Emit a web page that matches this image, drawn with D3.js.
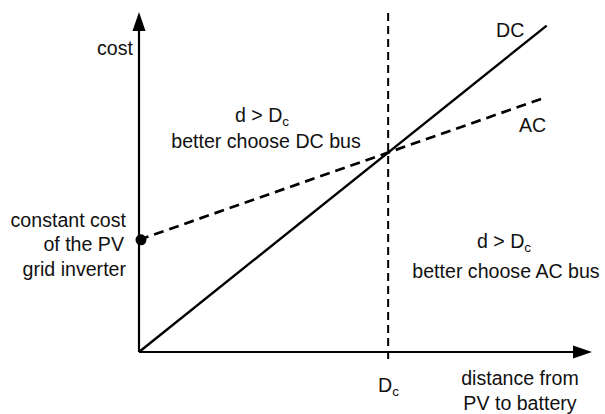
<!DOCTYPE html>
<html>
<head>
<meta charset="utf-8">
<script src="https://cdn.jsdelivr.net/npm/d3@7"></script>
<style>
  html, body { margin: 0; padding: 0; background: #fff; }
  svg text { font-family: "Liberation Sans", Arial, sans-serif; fill: #111; }
</style>
</head>
<body>
<svg id="chart" width="605" height="414"></svg>
<script>
// ---- data ----
const distance = [0, 90];          // distance from PV to battery (arbitrary units)
const dcCost   = [0, 96];          // DC bus cost
const acCost   = [33, 75];         // AC bus cost (constant inverter cost + slope)
const crossover = 55;              // D_c
const inverterCost = 33;           // constant cost of the PV grid inverter

const svg = d3.select("#chart");
const x = d3.scaleLinear().domain([0, 100]).range([139, 592]);
const y = d3.scaleLinear().domain([0, 100]).range([352, 12]);

// axes
const ax = svg.append("g").attr("stroke", "#000").attr("stroke-width", 2.2);
ax.append("line").attr("x1", x(0)).attr("x2", x(100) - 16).attr("y1", y(0)).attr("y2", y(0));
ax.append("line").attr("x1", x(0)).attr("x2", x(0)).attr("y1", y(0)).attr("y2", y(100) + 16);
// arrowheads
svg.append("path")
  .attr("d", `M${x(100)},${y(0)} L${x(100) - 19},${y(0) - 6.5} L${x(100) - 19},${y(0) + 6.5} Z`)
  .attr("fill", "#000");
svg.append("path")
  .attr("d", `M${x(0)},${y(100)} L${x(0) - 6.5},${y(100) + 19} L${x(0) + 6.5},${y(100) + 19} Z`)
  .attr("fill", "#000");

// crossover dashed vertical
svg.append("line")
  .attr("x1", x(crossover)).attr("x2", x(crossover))
  .attr("y1", y(100) + 1).attr("y2", y(0) + 11)
  .attr("stroke", "#000").attr("stroke-width", 2)
  .attr("stroke-dasharray", "8,5");

const line = d3.line().x(d => x(d[0])).y(d => y(d[1]));

// DC line
svg.append("path")
  .attr("d", line(distance.map((d, i) => [d, dcCost[i]])))
  .attr("fill", "none").attr("stroke", "#000").attr("stroke-width", 2.4);

// AC line
svg.append("path")
  .attr("d", line(distance.map((d, i) => [d, acCost[i]])))
  .attr("fill", "none").attr("stroke", "#000").attr("stroke-width", 2.7)
  .attr("stroke-dasharray", "10,6");

// inverter cost dot
svg.append("circle")
  .attr("cx", x(0) + 2).attr("cy", y(inverterCost))
  .attr("r", 5.5).attr("fill", "#000");

// ---- text ----
const fs = 19.6;
function txt(xp, yp, s, anchor) {
  return svg.append("text").attr("x", xp).attr("y", yp)
    .attr("font-size", fs).attr("text-anchor", anchor || "start").text(s);
}
function sub(xp, yp, main, subs, anchor) {
  const t = svg.append("text").attr("x", xp).attr("y", yp)
    .attr("font-size", fs).attr("text-anchor", anchor || "start");
  t.append("tspan").text(main);
  t.append("tspan").attr("font-size", 13.5).attr("dy", 4).text(subs);
  return t;
}

txt(133, 55, "cost", "end");
txt(126, 227, "constant cost", "end");
txt(124, 251, "of the PV", "end");
txt(126, 276, "grid inverter", "end");

sub(262, 122, "d > D", "c", "middle");
txt(266, 148, "better choose DC bus", "middle");
sub(504, 248, "d > D", "c", "middle");
txt(506, 278, "better choose AC bus", "middle");

txt(496, 37, "DC");
txt(519, 132, "AC");
sub(378, 392, "D", "c");
txt(520, 385, "distance from", "middle");
txt(520, 410, "PV to battery", "middle");
</script>
</body>
</html>
